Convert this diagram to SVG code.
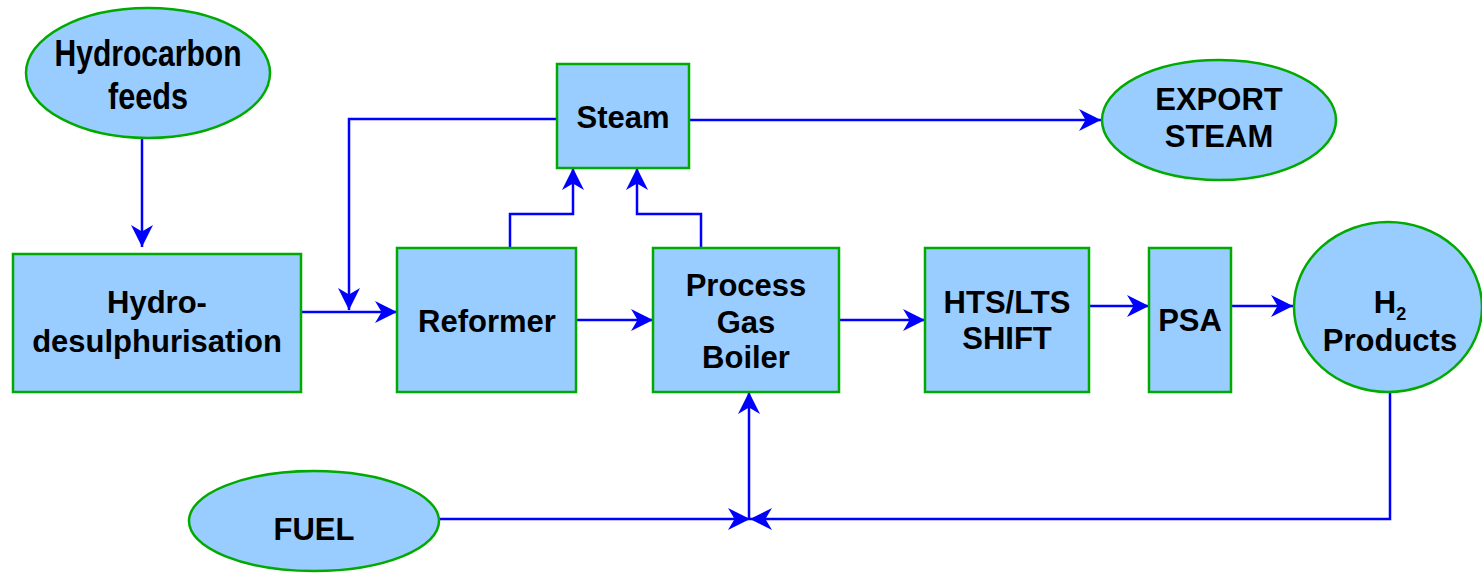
<svg xmlns="http://www.w3.org/2000/svg" width="1482" height="586" viewBox="0 0 1482 586">
<style>
.n{fill:#99CCFF;stroke:#00AA00;stroke-width:2.5}
.t{font-family:"Liberation Sans",Arial,sans-serif;font-weight:bold;font-size:31px;fill:#000;text-anchor:middle}
.nar{font-size:36px}
.c{fill:none;stroke:#0000FF;stroke-width:2.5}
</style>
<defs>
<marker id="a" viewBox="0 0 20 20" refX="20" refY="10" markerWidth="22" markerHeight="22" markerUnits="userSpaceOnUse" orient="auto">
<path d="M0,0 L20,10 L0,20 L6,10 z" fill="#0000FF"/>
</marker>
</defs>
<g id="connectors">
<path class="c" d="M142,139 V247" marker-end="url(#a)"/>
<path class="c" d="M301,312 H397" marker-end="url(#a)"/>
<path class="c" d="M557,119 H349 V310" marker-end="url(#a)"/>
<path class="c" d="M510,248 V214 H573 V168" marker-end="url(#a)"/>
<path class="c" d="M701,248 V214 H637 V168" marker-end="url(#a)"/>
<path class="c" d="M576,320 H653" marker-end="url(#a)"/>
<path class="c" d="M839,320 H925" marker-end="url(#a)"/>
<path class="c" d="M1089,306 H1149" marker-end="url(#a)"/>
<path class="c" d="M1231,306 H1293" marker-end="url(#a)"/>
<path class="c" d="M685,120 H1101" marker-end="url(#a)"/>
<path class="c" d="M1390,392 V519 H750" marker-end="url(#a)"/>
<path class="c" d="M439,519 H750" marker-end="url(#a)"/>
<path class="c" d="M749,519 V392" marker-end="url(#a)"/>
</g>
<g id="hydrocarbon">
<ellipse class="n" cx="148" cy="73" rx="122" ry="65"/>
<text class="t nar" x="148" y="66" textLength="187" lengthAdjust="spacingAndGlyphs">Hydrocarbon</text>
<text class="t nar" x="148" y="109" textLength="80" lengthAdjust="spacingAndGlyphs">feeds</text>
</g>
<g id="hds">
<rect class="n" x="13" y="254" width="288" height="138"/>
<text class="t" x="157" y="313">Hydro-</text>
<text class="t" x="157" y="352">desulphurisation</text>
</g>
<g id="steam">
<rect class="n" x="557" y="64" width="132" height="104"/>
<text class="t" x="623" y="128">Steam</text>
</g>
<g id="reformer">
<rect class="n" x="397" y="248" width="179" height="144"/>
<text class="t" x="487" y="332">Reformer</text>
</g>
<g id="pgb">
<rect class="n" x="653" y="248" width="186" height="144"/>
<text class="t" x="746" y="296">Process</text>
<text class="t" x="746" y="333">Gas</text>
<text class="t" x="746" y="368">Boiler</text>
</g>
<g id="shift">
<rect class="n" x="925" y="248" width="164" height="144"/>
<text class="t" x="1007" y="313">HTS/LTS</text>
<text class="t" x="1007" y="349">SHIFT</text>
</g>
<g id="psa">
<rect class="n" x="1149" y="248" width="82" height="144"/>
<text class="t" x="1190" y="331">PSA</text>
</g>
<g id="h2">
<ellipse class="n" cx="1388" cy="307" rx="94" ry="85"/>
<text class="t" x="1390" y="313">H<tspan font-size="18" dy="7">2</tspan></text>
<text class="t" x="1390" y="351">Products</text>
</g>
<g id="export">
<ellipse class="n" cx="1219" cy="120" rx="117" ry="60"/>
<text class="t" x="1219" y="110">EXPORT</text>
<text class="t" x="1219" y="147">STEAM</text>
</g>
<g id="fuel">
<ellipse class="n" cx="314" cy="521" rx="125" ry="50"/>
<text class="t" x="314" y="540">FUEL</text>
</g>
</svg>
